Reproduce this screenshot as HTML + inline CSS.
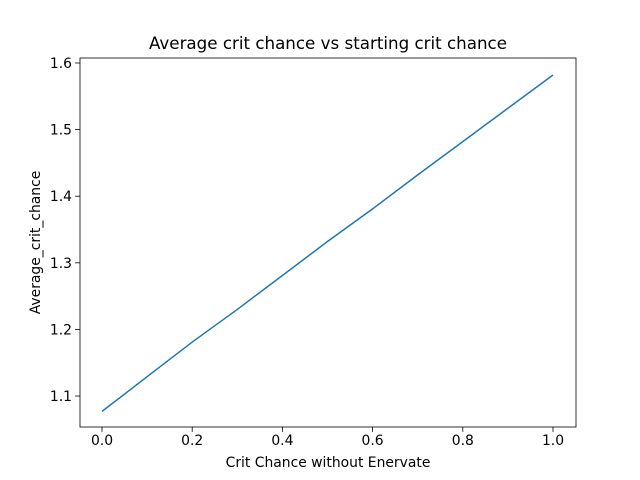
<!DOCTYPE html>
<html><head><meta charset="utf-8"><style>
body{margin:0;background:#fff;}
svg{display:block;font-family:"DejaVu Sans","Liberation Sans",sans-serif;}
</style></head><body>
<svg id="chart" width="640" height="480"></svg>
<script>
const xValues=[0,0.1,0.2,0.3,0.4,0.5,0.6,0.7,0.8,0.9,1.0];
const yValues=[1.077,1.129,1.181,1.230,1.281,1.332,1.381,1.432,1.482,1.532,1.582];
const xTicks=[0,0.2,0.4,0.6,0.8,1.0];
const yTicks=[1.1,1.2,1.3,1.4,1.5,1.6];
const L=80,R=576,T=58,B=427;
const xMin=-0.0488,xMax=1.051,yMin=1.0535,yMax=1.6075;
const sx=v=>L+(v-xMin)/(xMax-xMin)*(R-L);
const sy=v=>B-(v-yMin)/(yMax-yMin)*(B-T);
const svg=document.getElementById('chart');
const NS='http://www.w3.org/2000/svg';
function mk(tag,attrs,text){const e=document.createElementNS(NS,tag);for(const k in attrs)e.setAttribute(k,attrs[k]);if(text!==undefined)e.textContent=text;svg.appendChild(e);return e;}
let e=mk('rect',{x:L,y:T,width:R-L,height:B-T,fill:'none',stroke:'#000','stroke-width':0.8});


xTicks.forEach(t=>{const x=sx(t);
 let l=mk('line',{x1:x,x2:x,y1:B,y2:B+4.9,stroke:'#000','stroke-width':0.8});
 
 
 let tx=mk('text',{x:x,y:B+18,'font-size':13.9,'text-anchor':'middle'},t.toFixed(1));
 
 
});
yTicks.forEach(t=>{const y=sy(t);
 let l=mk('line',{x1:L-4.9,x2:L,y1:y,y2:y,stroke:'#000','stroke-width':0.8});
 
 
 let tx=mk('text',{x:L-8,y:y+5,'font-size':13.9,'text-anchor':'end'},t.toFixed(1));
 
 
});
const p=mk('polyline',{points:xValues.map((x,i)=>sx(x)+','+sy(yValues[i])).join(' '),fill:'none',stroke:'#1f77b4','stroke-width':1.5});


let t1=mk('text',{x:(L+R)/2,y:49,'font-size':16.7,'text-anchor':'middle'},'Average crit chance vs starting crit chance');


let t2=mk('text',{x:(L+R)/2,y:467,'font-size':13.9,'text-anchor':'middle'},'Crit Chance without Enervate');


let t3=mk('text',{x:40,y:(T+B)/2,'font-size':13.9,'text-anchor':'middle',transform:'rotate(-90 40 '+((T+B)/2)+')'},'Average_crit_chance');


</script>
</body></html>
